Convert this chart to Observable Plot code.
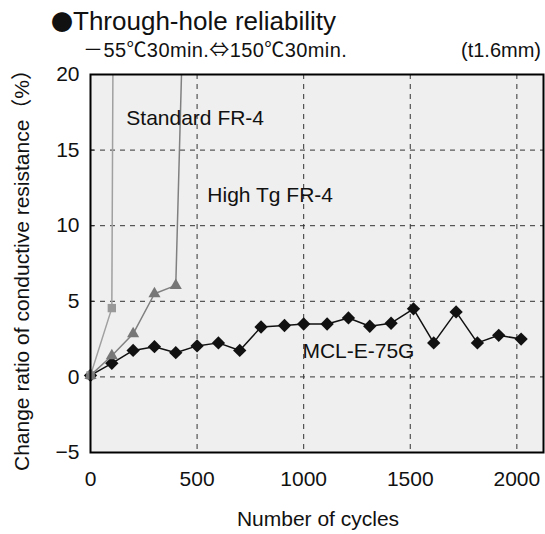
<!DOCTYPE html>
<html>
<head>
<meta charset="utf-8">
<script src="https://cdn.jsdelivr.net/npm/d3@7"></script>
<script src="https://cdn.jsdelivr.net/npm/@observablehq/plot@0.6"></script>
<style>
  html, body { margin: 0; padding: 0; background: #fff; }
  #chart { position: relative; width: 545px; height: 534px; }
</style>
</head>
<body>
<div id="chart"></div>
<script>
// ---- Data ----
const mclCycles = [0, 100, 200, 300, 400, 500, 600, 700, 800, 910, 1000, 1110, 1210, 1310, 1410, 1515, 1610, 1715, 1815, 1915, 2020];
const mclValues = [0.1, 0.9, 1.75, 2.0, 1.6, 2.05, 2.25, 1.75, 3.3, 3.4, 3.5, 3.5, 3.9, 3.35, 3.55, 4.5, 2.25, 4.3, 2.25, 2.75, 2.5];

// last entry is the off-scale continuation of the failing curve
const standardCycles = [0, 100, 110];
const standardValues = [0.1, 4.55, 35];
const standardMarkerCount = 2;

const highTgCycles = [0, 100, 200, 300, 400, 450];
const highTgValues = [0.1, 1.4, 2.85, 5.5, 6.05, 32];
const highTgMarkerCount = 5;

const xTicks = [0, 500, 1000, 1500, 2000];
const yTicks = [-5, 0, 5, 10, 15, 20];
const xGrid = [500, 1000, 1500, 2000];
const yGrid = [0, 5, 10, 15];

const seriesLabels = [
  {name: "Standard FR-4", x: 168, y: 17.1},
  {name: "High Tg FR-4", x: 548, y: 12.0},
  {name: "MCL-E-75G", x: 994, y: 1.7}
];

const toRows = (xs, ys) => xs.map((x, i) => ({x, y: ys[i]}));
const mcl = toRows(mclCycles, mclValues);
const standard = toRows(standardCycles, standardValues);
const highTg = toRows(highTgCycles, highTgValues);

const W = 545, H = 534;
const FONT = "'Liberation Sans', Arial, 'Noto Sans CJK JP', sans-serif";
const CJK = "'Noto Sans CJK JP', sans-serif";

const plot = Plot.plot({
  width: W,
  height: H,
  marginLeft: 90,
  marginRight: 2,
  marginTop: 74,
  marginBottom: 82,
  style: {fontFamily: FONT, fontSize: "21px", color: "#111", background: "#fff"},
  x: {domain: [0, 2125]},
  y: {domain: [-5, 20]},
  marks: [
    Plot.frame({fill: "#efefef"}),
    Plot.ruleX(xGrid, {stroke: "#333", strokeWidth: 1, strokeDasharray: "5,5"}),
    Plot.ruleY(yGrid, {stroke: "#333", strokeWidth: 1, strokeDasharray: "5,5"}),
    Plot.axisY(yTicks, {tickSize: -4, text: null, label: null, stroke: "#222"}),
    Plot.axisY(yTicks, {tickSize: 0, tickPadding: 11, fontSize: 21, label: null}),
    Plot.axisX(xTicks, {tickSize: 0, tickPadding: 19, fontSize: 21, label: null, tickFormat: d => String(d)}),
    // MCL-E-75G
    Plot.line(mcl, {x: "x", y: "y", stroke: "#111", strokeWidth: 1.5, clip: true}),
    Plot.dot(mcl, {x: "x", y: "y", symbol: "diamond2", r: 6, fill: "#111", stroke: "none"}),
    // Standard FR-4
    Plot.line(standard, {x: "x", y: "y", stroke: "#a0a0a0", strokeWidth: 1.5, clip: true}),
    Plot.dot(standard.slice(0, standardMarkerCount), {x: "x", y: "y", symbol: "square", r: 4.7, fill: "#999", stroke: "none"}),
    // High Tg FR-4
    Plot.line(highTg, {x: "x", y: "y", stroke: "#808080", strokeWidth: 1.5, clip: true}),
    Plot.dot(highTg.slice(0, highTgMarkerCount), {x: "x", y: "y", symbol: "triangle", r: 4.5, fill: "#777", stroke: "none"}),
    Plot.text(seriesLabels, {x: "x", y: "y", text: "name", textAnchor: "start", fontSize: 21, fill: "#111"}),
    Plot.frame({stroke: "#000", strokeWidth: 2})
  ]
});

document.getElementById("chart").appendChild(plot);

const svg = d3.select(plot);
// text made of [string, useCJKfont, fontSize?] parts
const addText = (x, y, size, anchor, parts, spacing = 0) => {
  const t = svg.append("text")
    .attr("x", x).attr("y", y).attr("text-anchor", anchor)
    .style("font-family", FONT).style("font-size", size + "px")
    .style("letter-spacing", spacing + "px").attr("fill", "#111");
  parts.forEach(([s, cjk, fs]) => {
    const sp = t.append("tspan").text(s);
    if (cjk) sp.style("font-family", CJK);
    if (fs) sp.style("font-size", fs + "px");
  });
  return t;
};

// Title and subtitle
addText(51, 30, 26, "start", [["●", true, 22], ["Through-hole reliability", false]]);
addText(83, 57, 20, "start", [
  ["－", true], ["55", false], ["℃", true], ["30min.", false], ["⇔", true],
  ["150", false], ["℃", true], ["30min.", false]
], 0.4);
addText(541, 57, 20, "end", [["(t1.6mm)", false]]);

// Axis titles
addText(318, 526, 21, "middle", [["Number of cycles", false]]);
svg.append("text")
  .attr("transform", "translate(29,265) rotate(-90)").attr("text-anchor", "middle")
  .style("font-family", FONT).style("font-size", "21px").attr("fill", "#111")
  .text("Change ratio of conductive resistance（%）");
</script>
</body>
</html>
